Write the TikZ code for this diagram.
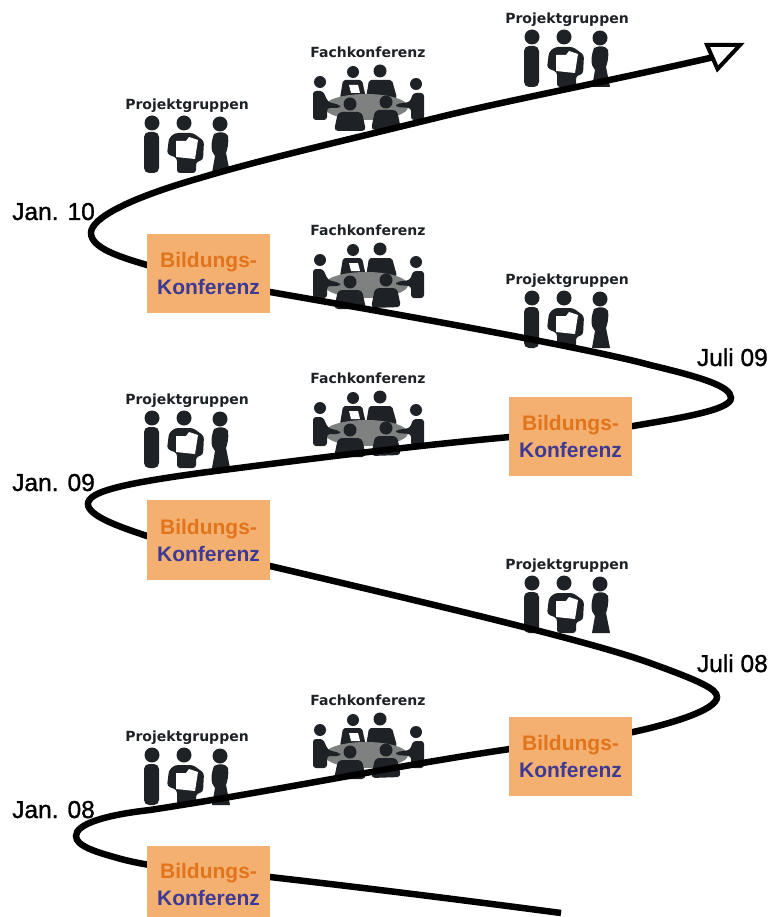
\documentclass[tikz,border=0pt]{standalone}
\usepackage{fontspec}
\setmainfont{Liberation Sans}
\newfontfamily\iconfont{DejaVu Sans}
\newfontfamily\datefont[FakeBold=1.2]{Liberation Sans}
\definecolor{boxfill}{HTML}{F3B070}
\definecolor{orangetxt}{HTML}{E2741B}
\definecolor{bluetxt}{HTML}{3D3A96}
\definecolor{icondark}{HTML}{1E2226}
\definecolor{tablegrey}{HTML}{7F8080}
\newcommand{\conftext}{\textcolor{orangetxt}{Bildungs-}\\\textcolor{bluetxt}{Konferenz}}
\tikzset{
  x=1pt,y=-1pt,
  confbox/.style={fill=boxfill,draw=none,minimum width=123pt,align=center,inner sep=0pt,font=\fontsize{21}{27}\selectfont\bfseries},
  grouplabel/.style={font=\iconfont\fontsize{14}{16}\selectfont\bfseries,text=icondark,inner sep=0pt},
  datelabel/.style={font=\datefont\fontsize{24.5}{27}\selectfont,inner sep=0pt,text=black},
  icon/.style={fill=icondark,draw=none},
  road/.style={line width=6.5pt,draw=black,line cap=butt},
  pics/team/.style={code={
    \node[grouplabel] (-label) at (0,0) {Projektgruppen};
    \fill[icon] (-35,17) circle (7.5);
    \fill[icon,rounded corners=5pt] (-43,26) rectangle (-28,67);
    \fill[icon] (-3,17) circle (7.5);
    \fill[icon,rounded corners=3pt] (-12,27) -- (6,27) -- (17,35) -- (16,54) -- (9,56) -- (9,67) -- (-10,67) -- (-10,52) -- (-20,48) -- (-18,32) -- cycle;
    \fill[white] (-11,35) -- (-1,35) -- (2,31) -- (11,34) -- (8,53) -- (-11,51) -- cycle;
    \fill[icon] (33,18) circle (7.5);
    \fill[icon] (27,28) .. controls (33,25) and (39,26) .. (41,30) .. controls (42,38) and (40,44) .. (39,47) -- (43,67) -- (25,67) -- (28,50) .. controls (23,45) and (24,36) .. (27,28) -- cycle;
  }},
  pics/meeting/.style={code={
    \node[grouplabel] (-label) at (0,0) {Fachkonferenz};
    \fill[icon] (-15,20) circle (6);
    \fill[icon,rounded corners=2pt] (-25,28) -- (-6,28) -- (-2,46) -- (-28,46) -- cycle;
    \fill[white] (-19,33) -- (-10,33) -- (-8,41) -- (-17,41) -- cycle;
    \fill[icon] (12,19) circle (6.5);
    \fill[icon,rounded corners=2pt] (1,28) -- (24,28) -- (29,46) -- (-2,46) -- cycle;
    \fill[tablegrey] (-2,55) ellipse (42 and 13);
    \fill[icon] (-48,30) circle (6);
    \fill[icon,rounded corners=3pt] (-55,39) -- (-45,39) -- (-40,50) -- (-28,53) -- (-28,56) -- (-41,56) -- (-41,68) -- (-55,68) -- cycle;
    \fill[icon] (48,32) circle (6);
    \fill[icon,rounded corners=3pt] (56,41) -- (45,41) -- (42,50) -- (28,52) -- (28,55) -- (43,56) -- (43,68) -- (56,68) -- cycle;
    \fill[icon] (-18,52) circle (6.5);
    \fill[icon,rounded corners=4pt] (-30,60) -- (-6,60) -- (-2,79) -- (-34,79) -- cycle;
    \fill[icon] (18,50) circle (6.5);
    \fill[icon,rounded corners=4pt] (7,58) -- (29,58) -- (33,77) -- (3,78) -- cycle;
    \fill[white] (-1,75) rectangle (2,78);
  }},
}
\begin{document}
\begin{tikzpicture}
\useasboundingbox (0,0) rectangle (772,917);
\fill[white] (0,0) rectangle (772,917);
% icons
\pic (p1) at (187,106) {team};
\pic (p2) at (567,20) {team};
\pic (p3) at (567,281) {team};
\pic (p4) at (187,401) {team};
\pic (p5) at (567,566) {team};
\pic (p6) at (187,738) {team};
\pic (f1) at (368,52) {meeting};
\pic (f2) at (368,230) {meeting};
\pic (f3) at (368,378) {meeting};
\pic (f4) at (368,700) {meeting};
% road
\coordinate (roadstart) at (561,913);
\coordinate (roadend) at (712,57.5);
\draw[road] (roadstart)
  .. controls (440,897) and (340,885) .. (270,877)
  .. controls (220,871) and (170,871) .. (125,860)
  .. controls (95,852) and (76,846) .. (76,836)
  .. controls (76,824) and (105,815) .. (150,810)
  .. controls (280,790) and (400,765) .. (510,749)
  .. controls (560,742) and (600,738) .. (633,732)
  .. controls (670,724) and (717,710) .. (717,697)
  .. controls (717,689) and (700,681) .. (650,663)
  .. controls (600,645) and (500,620) .. (270,566)
  .. controls (220,555) and (180,547) .. (147,536)
  .. controls (120,527) and (88,516) .. (88,504)
  .. controls (88,492) and (120,484) .. (200,473)
  .. controls (300,460) and (420,445) .. (510,437)
  .. controls (560,433) and (600,430) .. (633,426)
  .. controls (680,418) and (731,410) .. (731,398)
  .. controls (731,386) and (700,377) .. (650,365)
  .. controls (610,354) and (500,332) .. (270,292)
  .. controls (220,283) and (180,275) .. (147,265)
  .. controls (120,257) and (91,248) .. (91,233)
  .. controls (91,218) and (130,198) .. (200,178)
  .. controls (260,160) and (330,144) .. (440,117)
  .. controls (510,100) and (600,83) .. (roadend);
% arrow tip
\coordinate (tipa) at (707,45);
\coordinate (tipb) at (740,45);
\coordinate (tipc) at (717.5,69);
\draw[line width=4pt,fill=white,line join=miter] (tipa) -- (tipb) -- (tipc) -- cycle;
% boxes
\node[confbox,minimum height=79pt] (b1) at (208.5,273.5) {\conftext};
\node[confbox,minimum height=79pt] (b2) at (570.5,436.5) {\conftext};
\node[confbox,minimum height=80pt] (b3) at (208.5,540) {\conftext};
\node[confbox,minimum height=79pt] (b4) at (570.5,756.5) {\conftext};
\node[confbox,minimum height=71pt] (b5) at (208.5,881.5) {\rule{0pt}{21pt}\conftext};
% dates
\node[datelabel,anchor=base west] (d1) at (12,220) {Jan. 10};
\node[datelabel,anchor=base east] (d2) at (768,366) {Juli 09};
\node[datelabel,anchor=base west] (d3) at (12,491) {Jan. 09};
\node[datelabel,anchor=base east] (d4) at (768,672) {Juli 08};
\node[datelabel,anchor=base west] (d5) at (12,818) {Jan. 08};
\end{tikzpicture}
\end{document}
